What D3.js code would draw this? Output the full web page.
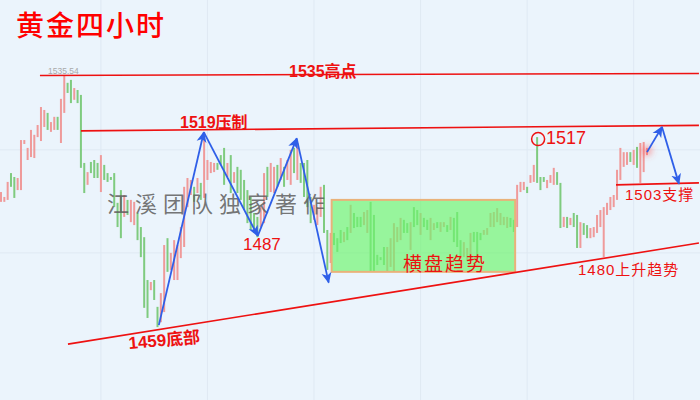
<!DOCTYPE html>
<html><head><meta charset="utf-8">
<script src="https://cdn.jsdelivr.net/npm/d3@7"></script>
<style>html,body{margin:0;padding:0;background:#ebf4fc;}svg{display:block;}</style>
</head><body>
<svg id="c" width="700" height="400"></svg>
<script>
// candle direction: U = rising (red), D = falling (green)
const dirs = ("UUUDDUUUUU"+"UUUUDUUDUU"+"DDUDDDUDDD"+"UDDDDDDUDU"+"UDDDDUDDUU"+
  "DUUUUUUUDU"+"DUUUUDDDUD"+"UDDDDDDDUU"+"DUUDUDUUDU"+"DDDDUUUDDU"+
  "DDDUDUDDDU"+"UDDDDDUUUU"+"UDDUDDUDDU"+"UDUUDUDDDU"+"UUDDDUUUUU"+
  "UUUDDUUUDU"+"UDDDUUUDDU"+"DUDDUDDUUU"+"UUUUUUUUUD"+"UDUUU").split("");
const highs = [1499.7,1498.2,1502.8,1505.5,1504.3,1504.0,1515.6,1515.6,1513.2,1518.7,
1517.2,1520.2,1525.7,1524.8,1523.9,1521.1,1522.7,1522.7,1528.2,1535.5,
1533.1,1534.0,1531.5,1530.9,1529.4,1508.6,1505.8,1508.9,1509.5,1508.6,
1511.0,1508.0,1505.5,1504.3,1505.5,1496.4,1500.3,1498.8,1497.3,1497.3,
1496.7,1493.3,1489.0,1485.9,1472.8,1472.2,1472.8,1464.6,1468.8,1483.5,
1485.6,1481.1,1485.0,1483.5,1489.0,1501.3,1504.0,1503.4,1501.3,1504.0,
1502.5,1517.8,1509.5,1508.9,1508.6,1508.6,1511.0,1513.2,1508.6,1511.0,
1505.8,1507.4,1506.5,1503.4,1500.3,1498.2,1493.3,1492.1,1495.1,1505.5,
1507.4,1508.6,1507.4,1508.0,1510.1,1507.4,1509.5,1512.6,1513.2,1514.7,
1508.6,1508.6,1509.5,1498.2,1495.8,1495.1,1501.3,1501.9,1488.1,1487.2,
1487.2,1485.6,1488.1,1487.5,1489.0,1495.8,1493.3,1492.1,1492.1,1493.6,
1494.2,1496.7,1492.7,1480.5,1479.8,1482.9,1482.9,1485.6,1490.2,1489.0,
1491.8,1491.2,1490.2,1490.5,1495.1,1494.2,1493.3,1491.8,1491.2,1491.8,
1490.2,1490.5,1490.5,1490.5,1489.6,1492.1,1491.8,1493.6,1485.0,1484.4,
1482.6,1487.2,1487.5,1487.5,1487.2,1488.1,1488.7,1493.3,1493.6,1494.8,
1493.3,1492.1,1492.1,1491.8,1491.2,1501.9,1502.8,1502.8,1501.3,1504.9,
1508.0,1516.5,1504.3,1504.3,1503.4,1504.9,1507.1,1505.8,1502.5,1492.1,
1492.1,1491.8,1493.3,1492.7,1490.5,1490.2,1489.6,1488.7,1489.0,1492.7,
1494.2,1495.1,1496.4,1498.2,1498.8,1506.5,1513.2,1511.9,1511.9,1511.9,
1512.6,1513.5,1514.7,1515.0,1513.2];
const lows = [1496.7,1496.7,1497.3,1501.3,1497.9,1500.3,1500.3,1514.4,1509.5,1510.4,
1510.1,1516.5,1515.3,1519.6,1518.7,1518.1,1518.7,1518.7,1514.7,1523.9,
1530.0,1526.9,1527.9,1526.9,1507.1,1499.4,1501.9,1505.5,1504.0,1504.0,
1499.7,1503.4,1502.8,1503.4,1495.1,1489.0,1485.6,1492.1,1492.7,1490.5,
1489.6,1485.0,1479.8,1464.3,1461.2,1469.7,1466.7,1458.4,1459.9,1463.0,
1475.3,1475.9,1472.8,1472.8,1479.5,1482.9,1495.1,1498.8,1496.7,1499.4,
1497.3,1497.9,1503.4,1505.5,1505.8,1506.5,1508.0,1501.9,1504.3,1499.4,
1502.5,1499.4,1497.3,1494.2,1490.2,1488.1,1487.2,1485.9,1489.0,1490.2,
1498.2,1499.7,1499.4,1501.3,1503.4,1501.3,1503.4,1501.9,1505.5,1503.4,
1502.5,1498.2,1495.1,1490.2,1491.2,1489.6,1492.1,1487.2,1475.9,1478.0,
1483.5,1481.4,1484.1,1484.4,1485.0,1487.2,1488.7,1489.0,1489.0,1489.6,
1487.2,1475.3,1475.3,1477.4,1478.9,1477.4,1475.3,1476.8,1475.3,1484.4,
1485.0,1487.2,1487.2,1482.0,1489.0,1489.6,1486.6,1489.0,1488.1,1485.0,
1488.1,1488.7,1487.5,1489.0,1487.5,1488.1,1484.4,1482.9,1479.5,1479.8,
1478.9,1479.8,1484.4,1479.8,1485.0,1486.6,1486.6,1489.0,1489.0,1490.5,
1489.6,1489.6,1488.7,1489.0,1487.5,1489.0,1499.7,1500.3,1499.4,1502.5,
1502.8,1502.5,1500.3,1502.8,1500.9,1502.5,1501.9,1501.9,1488.7,1489.0,
1488.7,1489.6,1489.0,1482.6,1482.6,1486.6,1485.6,1485.6,1485.9,1487.2,
1489.0,1479.8,1492.7,1494.2,1495.1,1497.3,1503.4,1507.4,1508.0,1508.9,
1508.0,1507.1,1502.5,1505.8,1511.0];

// annotation data: [candle index, price]
const topLine = [[11.7,1535.35],[209.6,1535.95]];
const resistLine = [[24,1518.4],[209.6,1520.1]];
const trendLine = [[20.1,1453.2],[209.6,1484.1]];
const supportLine = [[184.7,1501.9],[209.6,1502.5]];
const zigzag = [[47.4,1459.0],[60.9,1518.0],[77.1,1486.3],[88.8,1516.1],[98.4,1472.0]];
const forecast = [[194,1511.9],[198.5,1519.6],[203.6,1502.2]];
const rangeBox = {from:99.3, to:154.4, top:1497.3, bottom:1475.3};
const gridIdx = [30,62,94,126,158,190];
const gridPrice = [1512.6,1481.1];

const svg = d3.select("#c");
const W = 700, H = 400;
const xs = d3.scaleLinear().domain([0,194]).range([1,647]);
const ys = d3.scaleLinear().domain([1440,1545]).range([387.3,43.9]);

svg.append("rect").attr("width",W).attr("height",H).attr("fill","#ebf4fc");

// grid
svg.append("g").selectAll("line").data(gridIdx).join("line")
  .attr("x1",d=>xs(d)).attr("x2",d=>xs(d)).attr("y1",0).attr("y2",H)
  .attr("stroke","#dfe9f3").attr("stroke-width",1);
svg.append("g").selectAll("line").data(gridPrice).join("line")
  .attr("x1",0).attr("x2",W).attr("y1",d=>ys(d)).attr("y2",d=>ys(d))
  .attr("stroke","#dfe9f3").attr("stroke-width",1);

// candles
const candles = highs.map((h,i)=>({i, h, l:lows[i], up:dirs[i]==="U"}));
svg.append("g").selectAll("rect").data(candles).join("rect")
  .attr("x",d=>xs(d.i)-1).attr("width",2)
  .attr("y",d=>ys(d.h)).attr("height",d=>Math.max(1.5, ys(d.l)-ys(d.h)))
  .attr("fill",d=>d.up?"#ef9a9a":"#7fcb7f");

// range box
svg.append("rect")
  .attr("x",xs(rangeBox.from)).attr("y",ys(rangeBox.top))
  .attr("width",xs(rangeBox.to)-xs(rangeBox.from))
  .attr("height",ys(rangeBox.bottom)-ys(rangeBox.top))
  .attr("fill","rgb(110,245,110)").attr("fill-opacity",0.68)
  .attr("stroke","#e9b27a").attr("stroke-width",2);

// watermark
svg.append("text").attr("x",107).attr("y",212)
  .attr("font-family","'Noto Sans CJK SC'").attr("font-size",22).attr("font-weight",400)
  .attr("letter-spacing",6).attr("fill","#5e5e5e").attr("fill-opacity",0.85)
  .text("江溪团队独家著作");

const line = d3.line().x(d=>xs(d[0])).y(d=>ys(d[1]));
const red = "#ee1111";
[topLine,resistLine,trendLine,supportLine].forEach(l=>{
  svg.append("path").attr("d",line(l)).attr("stroke",red).attr("stroke-width",1.6).attr("fill","none");
});

// arrows
const defs = svg.append("defs");
defs.append("marker").attr("id","ah").attr("markerUnits","userSpaceOnUse")
  .attr("markerWidth",12).attr("markerHeight",12).attr("refX",10).attr("refY",5)
  .attr("orient","auto").attr("viewBox","0 0 12 10")
  .append("path").attr("d","M0,0 L11,5 L0,10 L3,5 Z").attr("fill","#2f5fe8");
const filt = defs.append("filter").attr("id","glow").attr("x","-2").attr("y","-2").attr("width","5").attr("height","5");
filt.append("feGaussianBlur").attr("stdDeviation",3);

function arrows(pts){
  for(let k=0;k<pts.length-1;k++){
    svg.append("path").attr("d",line([pts[k],pts[k+1]]))
      .attr("stroke","#2f5fe8").attr("stroke-width",1.8).attr("fill","none")
      .attr("marker-end","url(#ah)");
  }
}
// glow at last candle
svg.append("circle").attr("cx",xs(194)).attr("cy",ys(1512.3)).attr("r",5)
  .attr("fill","#ff5050").attr("fill-opacity",0.5).attr("filter","url(#glow)");
arrows(zigzag);
arrows(forecast);

// circle at 1517
svg.append("circle").attr("cx",xs(161.3)).attr("cy",ys(1515.9)).attr("r",6.5)
  .attr("fill","none").attr("stroke",red).attr("stroke-width",1.5);

// texts
function label(x,y,txt,size,weight,opts={}){
  const t = svg.append("text").attr("x",x).attr("y",y)
    .attr("font-family","'Liberation Sans','Noto Sans CJK SC',sans-serif")
    .attr("font-size",size).attr("font-weight",weight||"normal").attr("fill",opts.fill||red);
  if(opts.rotate) t.attr("transform",`rotate(${opts.rotate},${x},${y})`);
  if(opts.ls) t.attr("letter-spacing",opts.ls);
  t.text(txt);
  return t;
}
svg.append("text").attr("x",16).attr("y",36)
  .attr("font-family","'Noto Sans CJK SC'").attr("font-size",28).attr("font-weight",500)
  .attr("letter-spacing",2).attr("fill","#ff0000").text("黄金四小时");

label(48,74,"1535.54",8.5,"normal",{fill:"#a9a9a9"});
label(289,77,"1535高点",16,"bold");
label(180,128,"1519压制",16,"bold");
label(243,250,"1487",17,"normal");
label(129,349,"1459底部",17,"bold",{rotate:-5});
label(546,144,"1517",18,"normal");
label(625,200,"1503支撑",15,"normal",{ls:1});
label(403,271,"横盘趋势",19,"normal",{ls:2});
label(578,275,"1480上升趋势",15,"normal",{ls:1});
</script>
</body></html>
